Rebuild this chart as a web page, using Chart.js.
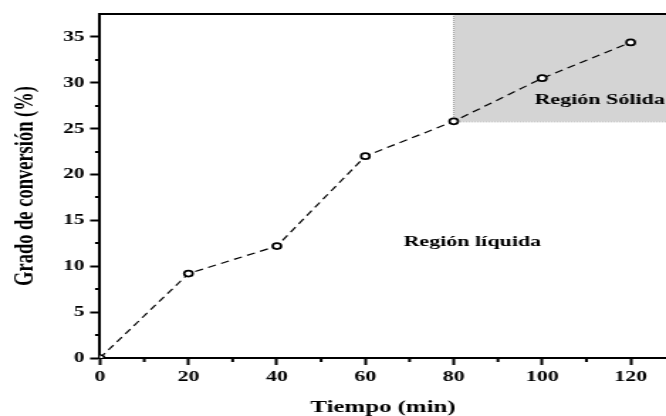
<!DOCTYPE html>
<html>
<head>
<meta charset="utf-8">
<script src="https://cdn.jsdelivr.net/npm/chart.js@4"></script>
<style>
  html, body { margin: 0; padding: 0; background: #fff; overflow: hidden; }
  /* la figura original está estirada en horizontal (los círculos salen ovalados) */
  #wrap { width: 469px; height: 416px; transform: scaleX(1.42004); transform-origin: 0 0; }
  #chart { display: block; }
</style>
</head>
<body>
<div id="wrap"><canvas id="chart" width="469" height="416"></canvas></div>
<script>
// datos
const tiempos = [0, 20, 40, 60, 80, 100, 120];
const conversion = [0, 9.2, 12.2, 22, 25.8, 30.5, 34.4];

// zona sólida: desde t = 80 min y conversión >= 25.8 %
const inicioSolido = 80;
const nivelSolido = 25.8;

const etiquetaSolida = 'Región Sólida';
const etiquetaLiquida = 'Región líquida';

const serif = "'Liberation Serif', 'Times New Roman', serif";
const S = 666 / 469;

const puntos = tiempos.map((t, i) => ({ x: t, y: conversion[i] }));

// sombreado, textos, ticks menores y borde superior
const extras = {
    id: 'extras',
    beforeDatasetsDraw(chart) {
        const { ctx, chartArea: a, scales: { x, y } } = chart;
        const x0 = x.getPixelForValue(inicioSolido);
        const y0 = y.getPixelForValue(nivelSolido);
        ctx.save();
        ctx.fillStyle = '#d4d4d4';
        ctx.fillRect(x0, a.top, a.right - x0, y0 - a.top);
        ctx.strokeStyle = '#8a8a8a';
        ctx.lineWidth = 0.8;
        ctx.setLineDash([1, 1]);
        ctx.beginPath();
        ctx.moveTo(x0, a.top);
        ctx.lineTo(x0, y0 + 0.5);
        ctx.lineTo(a.right, y0 + 0.5);
        ctx.stroke();
        ctx.setLineDash([]);

        ctx.fillStyle = '#000';
        ctx.font = 'bold 15.5px ' + serif;
        ctx.textAlign = 'center';
        ctx.textBaseline = 'middle';
        ctx.fillText(etiquetaSolida, x.getPixelForValue(113), y.getPixelForValue(28.1));
        ctx.fillText(etiquetaLiquida, x.getPixelForValue(84.2), y.getPixelForValue(12.6));
        ctx.restore();
    },
    afterDraw(chart) {
        const { ctx, chartArea: a, scales: { x, y } } = chart;
        ctx.save();
        ctx.strokeStyle = '#000';
        ctx.lineWidth = 2;
        ctx.beginPath();
        for (let v = 10; v < x.max; v += 20) {
            const px = x.getPixelForValue(v);
            ctx.moveTo(px, a.bottom);
            ctx.lineTo(px, a.bottom + 4);
        }
        for (let v = 2.5; v < y.max; v += 5) {
            const py = Math.round(y.getPixelForValue(v));
            ctx.moveTo(a.left, py);
            ctx.lineTo(a.left - 3.5, py);
        }
        ctx.moveTo(a.left - 1, a.top);
        ctx.lineTo(a.right, a.top);
        ctx.stroke();
        ctx.restore();
    }
};

new Chart(document.getElementById('chart'), {
    type: 'line',
    data: {
        datasets: [{
            data: puntos,
            borderColor: '#000',
            borderWidth: 1.2,
            borderDash: [6, 4],
            pointRadius: 3,
            pointBorderWidth: 1.7,
            pointBackgroundColor: '#fff',
            pointBorderColor: '#000',
            tension: 0
        }]
    },
    options: {
        responsive: false,
        animation: false,
        devicePixelRatio: 1,
        layout: { autoPadding: false, padding: { top: 14, right: 0, left: 0, bottom: 0 } },
        plugins: {
            legend: { display: false },
            tooltip: { enabled: false }
        },
        scales: {
            x: {
                type: 'linear',
                min: 0,
                max: 128,
                afterFit: s => { s.height = 58; s.paddingLeft = 0; s.paddingRight = 0; },
                ticks: {
                    stepSize: 20,
                    includeBounds: false,
                    color: '#000',
                    padding: 3,
                    maxRotation: 0,
                    font: { family: serif, size: 15.5, weight: 'bold' }
                },
                grid: {
                    drawOnChartArea: false,
                    drawTicks: true,
                    tickLength: 7,
                    tickColor: '#000',
                    tickWidth: 2
                },
                border: { display: true, color: '#000', width: 2 },
                title: {
                    display: true,
                    text: 'Tiempo (min)',
                    color: '#000',
                    padding: 0,
                    font: { family: serif, size: 17.5, weight: 'bold', lineHeight: 1 }
                }
            },
            y: {
                min: 0,
                max: 37.5,
                afterFit: s => { s.width = 100 / S; },
                ticks: {
                    stepSize: 5,
                    includeBounds: false,
                    color: '#000',
                    padding: 4,
                    font: { family: serif, size: 15, weight: 'bold' }
                },
                grid: {
                    drawOnChartArea: false,
                    drawTicks: true,
                    tickLength: 7,
                    tickColor: '#000',
                    tickWidth: 2
                },
                border: { display: true, color: '#000', width: 2 },
                title: {
                    display: true,
                    text: 'Grado de conversión (%)',
                    color: '#000',
                    padding: { top: 8.5, bottom: 0 },
                    font: { family: serif, size: 18.5, weight: 'bold', lineHeight: 1 }
                }
            }
        }
    },
    plugins: [extras]
});
</script>
</body>
</html>
